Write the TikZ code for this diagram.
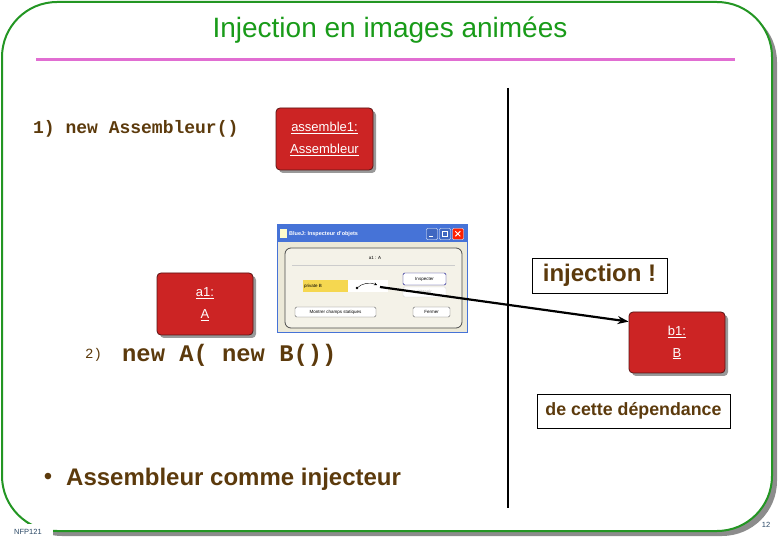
\documentclass[tikz,border=0pt]{standalone}
\usepackage{fontspec}
\setmainfont{Liberation Sans}
\newfontfamily\monofont{Liberation Mono}
\usetikzlibrary{arrows.meta}
\definecolor{brn}{RGB}{92,58,12}
\definecolor{ttl}{RGB}{25,155,25}
\definecolor{frm}{RGB}{35,150,35}
\definecolor{pinkline}{RGB}{225,110,210}
\definecolor{objred}{RGB}{204,36,36}
\definecolor{objedge}{RGB}{90,20,20}
\definecolor{xpbg}{RGB}{236,233,216}
\definecolor{xppanel}{RGB}{244,242,232}
\definecolor{xpblue}{RGB}{70,115,215}
\definecolor{fieldyel}{RGB}{245,215,80}
\definecolor{nfp}{RGB}{40,70,100}
\begin{document}
\begin{tikzpicture}[x=1pt,y=-1pt,
  objbox/.style={draw=objedge, line width=0.8pt, fill=objred, rounded corners=4pt,
    text=white, align=center, font=\fontsize{13}{22}\selectfont, inner sep=0pt,
    preaction={fill=black!40, transform canvas={shift={(3pt,-3pt)}}}},
  brtext/.style={text=brn, inner sep=0pt},
  msgbox/.style={draw=black, line width=0.8pt, fill=white, text=brn, inner sep=0pt,
    font=\bfseries\fontsize{24}{24}\selectfont},
  xpbtn/.style={draw=black!60, fill=white, rounded corners=1.5pt, inner sep=0pt,
    font=\fontsize{4.5}{5}\selectfont},
  tiny/.style={inner sep=0pt, font=\fontsize{4.5}{5}\selectfont}
]
\useasboundingbox (0,0) rectangle (780,540);
% frame
\fill[black!45, rounded corners=55pt] (7,7) rectangle (777,536);
\draw[frm, line width=2pt, fill=white, rounded corners=55pt] (2,2) rectangle (772,531);
\node[fill=white, inner sep=0pt, minimum width=44pt, minimum height=16pt] (nfpbg) at (31,532) {};
\node[text=nfp, font=\fontsize{7.5}{8}\selectfont, inner sep=0pt] (nfp) at (28,532) {NFP121};
\node[text=nfp, font=\fontsize{7.5}{8}\selectfont, inner sep=0pt] (pg) at (766,525) {12};
% title
\node[text=ttl, font=\fontsize{28}{28}\selectfont, inner sep=0pt] (title) at (390,30) {Injection en images animées};
\coordinate (pl) at (36,60); \coordinate (pr) at (735,60);
\draw[pinkline, line width=3pt] (pl) -- (pr);
% vertical line
\coordinate (vt) at (508,88); \coordinate (vb) at (508,508);
\draw[line width=2pt] (vt) -- (vb);
% step 1
\node[brtext, anchor=west, font=\monofont\bfseries\fontsize{18}{18}\selectfont] (l1) at (33,129) {1) new Assembleur()};
\node[objbox, minimum width=97pt, minimum height=62pt] (as) at (324.5,139) {\underline{assemble1:}\\\underline{Assembleur}};
% BlueJ window
\draw[xpblue, fill=xpbg, line width=1pt] (277,225) rectangle (467,333);
\fill[xpblue] (277,225) rectangle (467,242);
\fill[white!80!yellow] (280,229) rectangle (287,238);
\node[anchor=west, text=white, inner sep=0pt, font=\bfseries\fontsize{5.5}{6}\selectfont] (wt) at (289,234) {BlueJ: Inspecteur d'objets};
\node[draw=white, fill=xpblue!90!black, minimum width=11pt, minimum height=11pt, inner sep=0pt, rounded corners=1pt] (bmin) at (432,234) {};
\node[draw=white, fill=xpblue!90!black, minimum width=11pt, minimum height=11pt, inner sep=0pt, rounded corners=1pt] (bmax) at (445,234) {};
\node[draw=white, fill=red!75!orange, minimum width=11pt, minimum height=11pt, inner sep=0pt, rounded corners=1pt] (bcls) at (458,234) {};
\draw[white, line width=1pt] (bmin.south west) ++(3,-3) -- ++(4,0);
\draw[white, line width=0.8pt] (bmax.north west) ++(3,3) rectangle ++(5,5);
\draw[white, line width=1pt] (bcls.north west) ++(3,3) -- ++(5,5) ++(0,-5) -- ++(-5,5);
\draw[black!70, fill=xppanel, rounded corners=6pt, line width=0.8pt] (285,248) rectangle (462,328);
\node[tiny] (hdr) at (375,258) {a1 : A};
\draw[white, line width=1pt] (292,266) -- (455,266);
\draw[black!20, line width=0.4pt] (292,265) -- (455,265);
\node[fill=fieldyel, minimum width=45pt, minimum height=12pt, inner sep=0pt] (fld) at (325.5,286) {};
\node[tiny, anchor=west] (fldt) at (304,286) {private B};
\node[fill=white, minimum width=40pt, minimum height=12pt, inner sep=0pt] (val) at (368,286) {};
\fill (357,288) circle (1.3pt);
\draw[black, line width=0.4pt, -{Stealth[length=3pt,width=3pt]}] (357,288) .. controls (362,283) and (370,282) .. (377,285);
\coordinate (ptr) at (380,287);
\node[xpbtn, draw=blue!50!black, minimum width=43pt, minimum height=12pt] (insp) at (424.5,279) {Inspecter};
\node[xpbtn, draw=black!15, text=black!30, minimum width=43pt, minimum height=10pt] (obt) at (424.5,292) {Obtenir};
\node[xpbtn, minimum width=81pt, minimum height=10pt] (mont) at (335.5,312) {Montrer champs statiques};
\node[xpbtn, minimum width=37pt, minimum height=10pt] (ferm) at (431.5,312) {Fermer};
% step 2
\node[objbox, minimum width=96pt, minimum height=62pt] (a1) at (205,304) {\underline{a1:}\\\underline{A}};
\node[brtext, anchor=west, font=\monofont\fontsize{14}{14}\selectfont] (l2n) at (85,355) {2)};
\node[brtext, anchor=west, font=\monofont\bfseries\fontsize{23.8}{24}\selectfont] (l2) at (122,355) {new A( new B())};
\node[objbox, minimum width=96pt, minimum height=61pt] (b1) at (677,342.5) {\underline{b1:}\\\underline{B}};
\node[msgbox, minimum width=135pt, minimum height=35pt] (inj) at (599.5,275.5) {injection !};
\node[msgbox, font=\bfseries\fontsize{17.8}{18}\selectfont, minimum width=193pt, minimum height=34pt] (dep) at (633.5,411) {de cette dépendance};
\draw[line width=2.2pt, -{Stealth[length=11pt,width=8pt]}] (ptr) -- ([yshift=-10pt]b1.north west);
% bullet
\node[brtext, font=\fontsize{24}{24}\selectfont] (dot) at (48,479) {\textbullet};
\node[brtext, anchor=west, font=\bfseries\fontsize{24}{24}\selectfont] (bul) at (66,479) {Assembleur comme injecteur};
\end{tikzpicture}
\end{document}
